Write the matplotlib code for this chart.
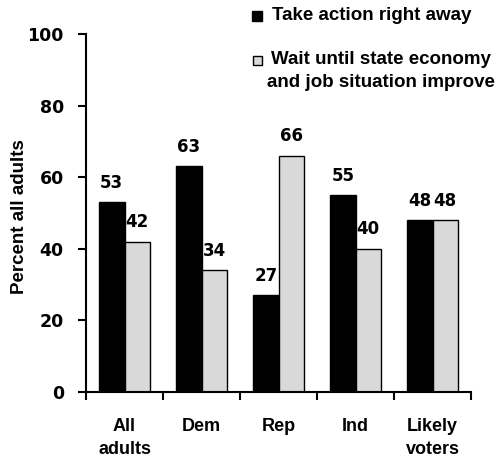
import matplotlib.pyplot as plt
import numpy as np
from matplotlib.patches import Rectangle

W, H = 498, 458
word_font = ['Liberation Sans', 'DejaVu Sans']
num_font = ['DejaVu Sans']

categories = ["All\nadults", "Dem", "Rep", "Ind", "Likely\nvoters"]
take_action = [53, 63, 27, 55, 48]
wait_until = [42, 34, 66, 40, 48]
series_names = ["Take action right away", "Wait until state economy\nand job situation improve"]
series_colors = ['black', '#d9d9d9']

fig = plt.figure(figsize=(W/100, H/100), dpi=100)
ax = fig.add_axes([86/W, 1 - 392/H, (471 - 86)/W, (392 - 34)/H])

x = np.arange(len(categories))
w = 0.33
b1 = ax.bar(x - w/2, take_action, w, color=series_colors[0], edgecolor='black', linewidth=1)
b2 = ax.bar(x + w/2, wait_until, w, color=series_colors[1], edgecolor='black', linewidth=1)

# value labels above bars
for bars, vals in ((b1, take_action), (b2, wait_until)):
    for r, v in zip(bars, vals):
        ax.annotate(str(v), (r.get_x() + r.get_width()/2, v), xytext=(0, 14),
                    textcoords='offset points', ha='center', va='center',
                    fontsize=12, fontweight='bold', family=num_font)

ax.set_xlim(-0.5, len(categories) - 0.5)
ax.set_ylim(0, 100)
ax.set_yticks(range(0, 101, 20))
ax.tick_params(axis='y', direction='out', length=6, width=1.5, pad=10)
for lbl in ax.get_yticklabels():
    lbl.set_fontweight('bold')
    lbl.set_fontsize(12.5)
    lbl.set_family(num_font)

ax.set_xticks(x)
ax.set_xticklabels(categories, fontsize=13, fontweight='bold', family=word_font,
                   linespacing=1.4)
ax.tick_params(axis='x', length=0, pad=19)
ax.set_xticks(np.arange(-0.5, len(categories)), minor=True)
ax.tick_params(axis='x', which='minor', direction='out', length=6, width=1.5)

for s in ['top', 'right']:
    ax.spines[s].set_visible(False)
ax.spines['left'].set_linewidth(1.5)
ax.spines['bottom'].set_linewidth(1.5)

ax.set_ylabel("Percent all adults", fontsize=13.5, fontweight='bold', family=word_font)
ax.yaxis.set_label_coords(-0.15, 0.49)

# legend drawn by hand to match the layout
fig.add_artist(Rectangle((252/W, 1 - 21/H), 10/W, 10/H, transform=fig.transFigure,
                         facecolor=series_colors[0], edgecolor='black', linewidth=1))
fig.text(272/W, 1 - 16/H, series_names[0], ha='left', va='center',
         fontsize=13.5, fontweight='bold', family=word_font)
fig.add_artist(Rectangle((253/W, 1 - 65/H), 9/W, 9/H, transform=fig.transFigure,
                         facecolor=series_colors[1], edgecolor='black', linewidth=1))
fig.text(381/W, 1 - 71/H, series_names[1], ha='center', va='center',
         multialignment='center', fontsize=13.5, fontweight='bold',
         family=word_font, linespacing=1.4)

fig.savefig('out.png', dpi=100)
